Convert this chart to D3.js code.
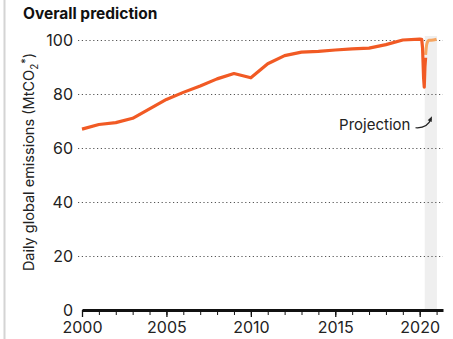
<!DOCTYPE html>
<html>
<head>
<meta charset="utf-8">
<script src="https://cdn.jsdelivr.net/npm/d3@7"></script>
<style>
  body { margin: 0; background: #fff; }
  svg { display: block; font-family: Inter, "Noto Sans", sans-serif; }
</style>
</head>
<body>
<svg width="453" height="339"></svg>
<script>
// annual averages 2000-2019
let years = [2000, 2001, 2002, 2003, 2004, 2005, 2006, 2007, 2008, 2009,
             2010, 2011, 2012, 2013, 2014, 2015, 2016, 2017, 2018, 2019];
let emissions = [67, 68.7, 69.4, 71, 74.5, 78, 80.6, 83, 85.6, 87.6,
                 86, 91.2, 94.2, 95.5, 95.8, 96.3, 96.7, 97, 98.3, 100];
// 2020 daily values (decimal year) and projection
let daily2020 = [[2020, 100.3], [2020.12, 100.2], [2020.17, 97], [2020.23, 86],
                 [2020.27, 82.5], [2020.31, 90], [2020.35, 93.5]];
let projection = [[2020.35, 94.5], [2020.42, 98.5], [2020.55, 99.9], [2020.8, 100], [2021, 100.3]];
let band = [2020.3, 2021.02];
let yTicks = [0, 20, 40, 60, 80, 100];
let xMajor = [2000, 2005, 2010, 2015, 2020];
let xMinor = d3.range(2000, 2022);

window.addEventListener('load', e => {
    let svg = d3.select("svg");

    let xScale = d3.scaleLinear().domain([2000, 2021.38]).range([82, 443]);
    let yScale = d3.scaleLinear().domain([0, 100]).range([310, 40]);

    // frame line on the left
    svg.append("line")
       .attr("x1", 4.5).attr("x2", 4.5)
       .attr("y1", 0).attr("y2", 339)
       .attr("stroke", "#d4d4d4")
       .attr("stroke-width", 2);

    svg.append("text")
       .attr("x", 23)
       .attr("y", 19)
       .attr("font-size", 15.5)
       .attr("font-weight", 700)
       .attr("fill", "#111")
       .text("Overall prediction");

    // projection band
    svg.append("rect")
       .attr("x", xScale(band[0]))
       .attr("width", xScale(band[1]) - xScale(band[0]))
       .attr("y", yScale(100) - 4)
       .attr("height", yScale(0) - yScale(100) + 4)
       .attr("fill", "#efefef");

    // grid
    let yAxis = d3.axisLeft(yScale)
                  .tickValues(yTicks)
                  .tickSize(-(443 - 78))
                  .tickPadding(5)
                  .tickSizeOuter(0);
    let gy = svg.append("g")
                .attr("transform", "translate(78,0)")
                .call(yAxis);
    gy.select(".domain").remove();
    gy.selectAll("line")
      .attr("stroke", "#555")
      .attr("stroke-width", 1.2)
      .attr("stroke-dasharray", "1.2,2.6")
      .filter(d => d === 0).remove();
    gy.selectAll("text")
      .attr("font-size", 16)
      .attr("fill", "#222")
      .attr("font-family", "Inter, sans-serif");

    // x axis: minor ticks then major ticks with labels
    let gMinor = svg.append("g")
                    .attr("transform", "translate(0," + yScale(0) + ")")
                    .call(d3.axisBottom(xScale).tickValues(xMinor).tickSize(5).tickSizeOuter(0).tickFormat(""));
    gMinor.select(".domain").remove();
    gMinor.selectAll("line").attr("stroke", "#111").attr("stroke-width", 1);

    let gx = svg.append("g")
                .attr("transform", "translate(0," + yScale(0) + ")")
                .call(d3.axisBottom(xScale).tickValues(xMajor).tickSize(7).tickSizeOuter(0).tickPadding(5).tickFormat(d3.format("d")));
    gx.select(".domain")
      .attr("stroke", "#111")
      .attr("stroke-width", 3);
    gx.selectAll("line").attr("stroke", "#111").attr("stroke-width", 1.3);
    gx.selectAll("text")
      .attr("font-size", 16)
      .attr("fill", "#222")
      .attr("font-family", "Inter, sans-serif");

    // y title
    let yTitle = svg.append("text")
                    .attr("transform", "translate(34," + 162 + ") rotate(-90)")
                    .attr("text-anchor", "middle")
                    .attr("font-size", 14.5)
                    .attr("fill", "#222");
    yTitle.append("tspan").text("Daily global emissions (MtCO");
    yTitle.append("tspan").attr("font-size", 10).attr("dy", 4).text("2");
    yTitle.append("tspan").attr("font-size", 11).attr("dy", -9).text("*");
    yTitle.append("tspan").attr("dy", 5).text(")");

    let line = d3.line()
                 .x(d => xScale(d[0]))
                 .y(d => yScale(d[1]));

    let annual = years.map((y, i) => [y, emissions[i]]);

    svg.append("path")
       .datum(projection)
       .attr("d", line.curve(d3.curveMonotoneX))
       .attr("fill", "none")
       .attr("stroke", "#f6a560")
       .attr("stroke-width", 3);

    svg.append("path")
       .datum(annual.concat(daily2020))
       .attr("d", d3.line().x(d => xScale(d[0])).y(d => yScale(d[1])))
       .attr("fill", "none")
       .attr("stroke", "#f15a24")
       .attr("stroke-width", 3.2)
       .attr("stroke-linejoin", "round");

    // annotation
    svg.append("text")
       .attr("x", xScale(2019.45))
       .attr("y", yScale(66.5))
       .attr("text-anchor", "end")
       .attr("font-size", 15)
       .attr("fill", "#222")
       .text("Projection");

    let x0 = xScale(2019.75), y0 = yScale(67.5);
    let x1 = xScale(2020.68), y1 = yScale(70.8);
    svg.append("path")
       .attr("d", "M" + x0 + "," + y0 + " Q" + (x1 - 4) + "," + (y0 + 1) + " " + x1 + "," + y1)
       .attr("fill", "none")
       .attr("stroke", "#222")
       .attr("stroke-width", 1.2);
    svg.append("path")
       .attr("d", "M" + (x1 - 3.5) + "," + (y1 + 1.5) + " L" + (x1 + 0.8) + "," + (y1 - 2.5) + " L" + (x1 + 0.5) + "," + (y1 + 3.2) + "Z")
       .attr("fill", "#222");
});
</script>
</body>
</html>
